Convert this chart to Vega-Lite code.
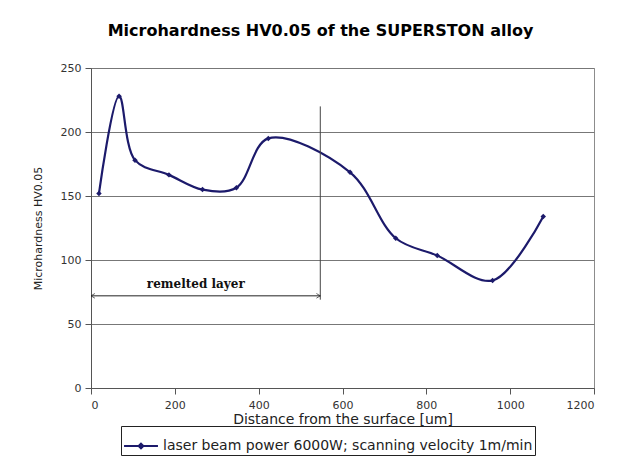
{
  "$schema": "https://vega.github.io/schema/vega-lite/v6.json",
  "width": 503,
  "height": 320,
  "autosize": {"type": "none"},
  "padding": {"left": 91, "top": 68, "right": 30, "bottom": 70},
  "background": "white",
  "title": {
    "text": "Microhardness HV0.05 of the SUPERSTON alloy",
    "font": "DejaVu Sans",
    "fontSize": 16,
    "fontWeight": "bold",
    "color": "black",
    "offset": 23,
    "dx": -22
  },
  "config": {
    "font": "DejaVu Sans",
    "view": {"stroke": "#8c8c8c", "strokeWidth": 1},
    "axis": {
      "labelFont": "DejaVu Sans",
      "labelFontSize": 11,
      "labelColor": "#333333",
      "titleFont": "DejaVu Sans",
      "titleFontWeight": "normal",
      "titleColor": "#222222",
      "domainColor": "#555555",
      "tickColor": "#555555",
      "gridColor": "#777777",
      "gridOpacity": 1
    }
  },
  "datasets": {
    "main": [
      {"distance": 19, "hv": 152, "series": "laser beam power 6000W; scanning velocity 1m/min"},
      {"distance": 67, "hv": 228, "series": "laser beam power 6000W; scanning velocity 1m/min"},
      {"distance": 105, "hv": 178, "series": "laser beam power 6000W; scanning velocity 1m/min"},
      {"distance": 186, "hv": 166.5, "series": "laser beam power 6000W; scanning velocity 1m/min"},
      {"distance": 266, "hv": 155, "series": "laser beam power 6000W; scanning velocity 1m/min"},
      {"distance": 347, "hv": 156.5, "series": "laser beam power 6000W; scanning velocity 1m/min"},
      {"distance": 423, "hv": 195, "series": "laser beam power 6000W; scanning velocity 1m/min"},
      {"distance": 618, "hv": 168.5, "series": "laser beam power 6000W; scanning velocity 1m/min"},
      {"distance": 727, "hv": 117, "series": "laser beam power 6000W; scanning velocity 1m/min"},
      {"distance": 826, "hv": 103.5, "series": "laser beam power 6000W; scanning velocity 1m/min"},
      {"distance": 958, "hv": 84, "series": "laser beam power 6000W; scanning velocity 1m/min"},
      {"distance": 1079, "hv": 134, "series": "laser beam power 6000W; scanning velocity 1m/min"}
    ],
    "vline": [{"x": 547, "y": 69, "y2": 220}],
    "hline": [{"x": 0, "x2": 547, "y": 72}],
    "heads": [
      {"x": 0, "y": 72, "dir": "left"},
      {"x": 547, "y": 72, "dir": "right"}
    ],
    "label": [{"x": 250, "y": 81, "text": "remelted layer"}]
  },
  "layer": [
    {
      "data": {"name": "main"},
      "mark": {
        "type": "line",
        "interpolate": "catmull-rom",
        "strokeWidth": 2.2,
        "point": {"shape": "diamond", "size": 30, "filled": true, "color": "#1c1a6b"}
      },
      "encoding": {
        "x": {
          "field": "distance",
          "type": "quantitative",
          "scale": {"domain": [0, 1200], "nice": false},
          "axis": {"values": [0, 200, 400, 600, 800, 1000, 1200], "format": "d", "grid": false, "title": "Distance from the surface [um]", "titleFontSize": 14, "titlePadding": 2, "labelPadding": 5, "tickSize": 6}
        },
        "y": {
          "field": "hv",
          "type": "quantitative",
          "scale": {"domain": [0, 250], "nice": false},
          "axis": {"values": [0, 50, 100, 150, 200, 250], "grid": true, "title": "Microhardness HV0.05", "titleFontSize": 11, "titlePadding": 17, "labelPadding": 4, "tickSize": 6}
        },
        "color": {
          "field": "series",
          "type": "nominal",
          "scale": {"range": ["#1c1a6b"]},
          "legend": {
            "title": null,
            "orient": "none",
            "legendX": 30,
            "legendY": 358,
            "direction": "horizontal",
            "strokeColor": "#222222",
            "padding": 2,
            "labelLimit": 600,
            "labelFont": "DejaVu Sans",
            "labelFontSize": 14,
            "labelColor": "#222222",
            "labelOffset": 4,
            "symbolType": "M-1,0L1,0M0,-0.14L0.14,0L0,0.14L-0.14,0Z",
            "symbolSize": 1150,
            "symbolStrokeWidth": 2,
            "symbolStrokeColor": "#1c1a6b",
            "symbolFillColor": "#1c1a6b"
          }
        }
      }
    },
    {
      "data": {"name": "vline"},
      "mark": {"type": "rule", "color": "#444444", "strokeWidth": 1},
      "encoding": {
        "x": {"field": "x", "type": "quantitative"},
        "y": {"field": "y", "type": "quantitative"},
        "y2": {"field": "y2"}
      }
    },
    {
      "data": {"name": "hline"},
      "mark": {"type": "rule", "color": "#222222", "strokeWidth": 1},
      "encoding": {
        "x": {"field": "x", "type": "quantitative"},
        "x2": {"field": "x2"},
        "y": {"field": "y", "type": "quantitative"}
      }
    },
    {
      "data": {"name": "heads"},
      "mark": {"type": "point", "filled": false, "color": "#222222", "strokeWidth": 1, "size": 60},
      "encoding": {
        "x": {"field": "x", "type": "quantitative"},
        "y": {"field": "y", "type": "quantitative"},
        "shape": {
          "field": "dir",
          "type": "nominal",
          "scale": {"domain": ["left", "right"], "range": ["M1,-0.6L0,0L1,0.6", "M-1,-0.6L0,0L-1,0.6"]},
          "legend": null
        }
      }
    },
    {
      "data": {"name": "label"},
      "mark": {"type": "text", "font": "DejaVu Serif", "fontWeight": "bold", "fontSize": 12, "color": "#111111"},
      "encoding": {
        "x": {"field": "x", "type": "quantitative"},
        "y": {"field": "y", "type": "quantitative"},
        "text": {"field": "text"}
      }
    }
  ]
}
